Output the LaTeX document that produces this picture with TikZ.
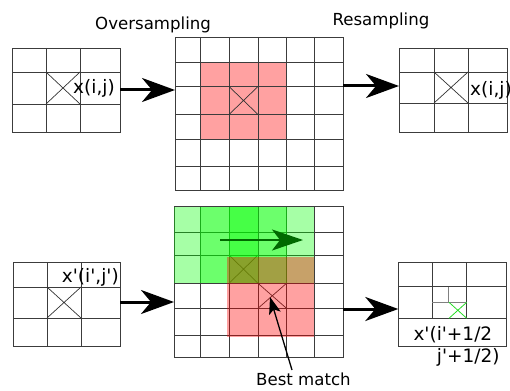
\documentclass[tikz,border=0pt]{standalone}
\usepackage{fontspec}
\setmainfont{DejaVu Sans}
\usetikzlibrary{arrows.meta}
\definecolor{gridline}{RGB}{60,60,60}
\definecolor{darkgr}{RGB}{0,105,0}
\newcommand{\sq}{\textquotesingle}
\tikzset{
  gridbox/.style={draw=gridline,line width=0.9pt,inner sep=0pt,outer sep=0pt,rectangle},
  gl/.style={draw=gridline,line width=0.8pt},
  cross/.style={draw=black!80,line width=0.7pt},
  bigarrow/.style={line width=3pt,-{Stealth[length=33pt,width=24pt,inset=10pt]}},
  greenarrow/.style={line width=2.2pt,draw=darkgr,-{Stealth[length=31pt,width=21pt,inset=8pt,fill=darkgr]}},
  thinarrow/.style={line width=1.3pt,-{Stealth[length=17pt,width=12pt,inset=4pt]}},
  redfill/.style={fill=red,fill opacity=0.37},
  greenfill/.style={fill={rgb,255:red,0;green,255;blue,0},fill opacity=0.35},
  title/.style={anchor=base west,inner sep=0pt,font=\fontsize{16.6}{20}\selectfont},
  lab/.style={anchor=base west,inner sep=0pt,font=\fontsize{18.5}{22}\selectfont},
}
\begin{document}
\begin{tikzpicture}[x=1pt,y=-1pt]
\useasboundingbox (0,0) rectangle (510,390);

% ---------- top row ----------
% grid 1
\node[gridbox,minimum width=108pt,minimum height=84pt] (g1) at (66,90) {};
\draw[gl] (46,48) -- (46,132) (80,48) -- (80,132) (12,72) -- (120,72) (12,104) -- (120,104);
\draw[cross] (46,72) -- (80,104) (46,104) -- (80,72);
\node[lab] (t1) at (73,94) {x(i,j)};

% grid 2
\fill[redfill] (199.5,62) rectangle (286.5,140);
\node[gridbox,minimum width=168pt,minimum height=153pt] (g2) at (259,113.5) {};
\foreach \x in {200.5,229,258,286.5,314} \draw[gl] (\x,37) -- (\x,190);
\foreach \y in {62,86.5,114.5,139,166.5} \draw[gl] (175,\y) -- (343,\y);
\draw[cross] (229,86.5) -- (258,114.5) (229,114.5) -- (258,86.5);

% grid 3
\node[gridbox,minimum width=108pt,minimum height=84pt] (g3) at (453,90) {};
\draw[gl] (434,48) -- (434,132) (468,48) -- (468,132) (399,72) -- (507,72) (399,103) -- (507,103);
\draw[cross] (434,72) -- (468,103) (434,103) -- (468,72);
\node[lab] (t3) at (470,96) {x(i,j)};

\node[title] (ov) at (95,30) {Oversampling};
\node[title] (rs) at (332.3,26) {Resampling};

\draw[bigarrow] (g1.east) -- (g1.east -| g2.west);
\draw[bigarrow] (g2.east |- 0,86) -- (g3.west |- 0,86);

% ---------- bottom row ----------
% grid 4
\node[gridbox,minimum width=107pt,minimum height=84pt] (g4) at (66.5,304) {};
\draw[gl] (47,262) -- (47,346) (81,262) -- (81,346) (13,287) -- (120,287) (13,318) -- (120,318);
\draw[cross] (47,287) -- (81,318) (47,318) -- (81,287);
\node[lab] (t4) at (61.7,282.5) {x\sq(i\sq,j\sq)};

% grid 5
\draw[cross] (229,255) -- (258,283.3) (229,283.3) -- (258,255);
\draw[cross] (258,283.3) -- (286.5,308.3) (258,308.3) -- (286.5,283.3);
\node[gridbox,minimum width=169pt,minimum height=151pt] (g5) at (258.5,282) {};
\foreach \x in {200,229,258,286.5,314} \draw[gl] (\x,206.5) -- (\x,357.5);
\foreach \y in {232.3,255,283.3,308.3,335.5} \draw[gl] (174,\y) -- (343,\y);
\fill[greenfill] (174,206.5) rectangle (258,283.3);
\fill[greenfill] (200,206.5) rectangle (286.5,283.3);
\fill[greenfill] (229,206.5) rectangle (314,283.3);
\fill[redfill] (227,257) rectangle (314,336.5);
\coordinate (ga) at (220,240);
\coordinate (gb) at (303,240);
\draw[greenarrow] (ga) -- (gb);

\node[title] (bm) at (256,385) {Best match};
\coordinate (bmtail) at (292,370);
\coordinate (bmtip) at (270,297);
\draw[thinarrow] (bmtail) -- (bmtip);

% grid 6
\node[gridbox,minimum width=108.4pt,minimum height=84pt] (g6) at (452.5,304.7) {};
\draw[gl] (432.3,262.7) -- (432.3,318.3) (466.7,262.7) -- (466.7,318.3)
          (398.3,286.7) -- (506.7,286.7) (398.3,318.3) -- (506.7,318.3);
\draw[gl,draw=gray] (448.3,286.7) -- (448.3,302.3) (432.3,302.3) -- (466.7,302.3);
\draw[draw={rgb,255:red,40;green,220;blue,40},line width=0.8pt]
  (449,302.3) -- (466.7,318.3) (449,318.3) -- (466.7,302.3);
\node[lab] (t6a) at (413.3,340) {x\sq(i\sq+1/2};
\node[lab] (t6b) at (436.7,362) {j\sq+1/2)};

\draw[bigarrow] (g4.east |- 0,302) -- (g5.west |- 0,302);
\draw[bigarrow] (g5.east |- 0,309) -- (g6.west |- 0,309);
\end{tikzpicture}
\end{document}
